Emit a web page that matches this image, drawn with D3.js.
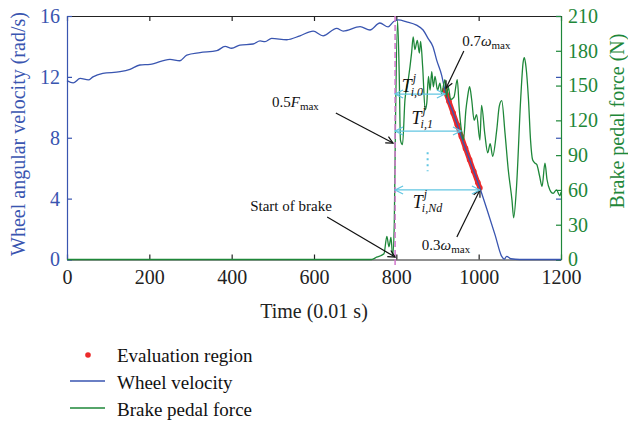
<!DOCTYPE html>
<html>
<head>
<meta charset="utf-8">
<script src="https://cdn.jsdelivr.net/npm/d3@7"></script>
<style>
body { margin: 0; background: #fff; }
text { font-family: "Liberation Serif", "Times New Roman", serif; }
</style>
</head>
<body>
<svg width="628" height="424"></svg>
<script>
// tick values
let timeTicks = [0, 200, 400, 600, 800, 1000, 1200];
let velTicks = [0, 4, 8, 12, 16];
let forceTicks = [0, 30, 60, 90, 120, 150, 180, 210];

// wheel angular velocity (rad/s)
let velTime = [0, 15, 32, 52, 63, 87, 129, 153, 177, 202, 250, 274, 291, 323, 364, 384, 400, 420, 452, 469, 481, 497, 534, 566, 598, 622, 655, 671, 712, 736, 760, 780, 793, 804, 825, 849, 865, 877, 889, 898, 910, 918, 940, 960, 980, 1003, 1020, 1040, 1056, 1062, 1068, 1078, 1100, 1150, 1200];
let velValue = [11.75, 11.6, 11.9, 11.8, 12.0, 12.23, 12.34, 12.5, 12.78, 12.82, 13.15, 13.06, 13.43, 13.59, 13.72, 14.0, 13.88, 14.09, 14.16, 14.36, 14.31, 14.53, 14.44, 14.7, 15.01, 14.7, 15.19, 15.01, 15.3, 15.08, 15.54, 15.28, 15.62, 15.74, 15.62, 15.4, 15.08, 14.53, 13.98, 13.1, 12.12, 11.14, 9.5, 7.9, 6.4, 4.7, 3.3, 1.6, 0.2, 0.02, 0.2, 0.05, 0.0, 0.0, 0.0];

// brake pedal force (N)
let forceTime = [0, 740, 752, 770, 777, 782, 787, 791, 795, 798, 803, 807, 810, 815, 821, 829, 837, 841, 845, 851, 856, 859, 864, 870, 874, 878, 882, 886, 890, 894, 900, 906, 910, 918, 922, 926, 932, 940, 948, 953, 959, 963, 969, 973, 978, 983, 989, 995, 1003, 1007, 1015, 1022, 1028, 1034, 1044, 1050, 1056, 1064, 1072, 1081, 1085, 1092, 1102, 1108, 1111, 1115, 1121, 1126, 1131, 1137, 1141, 1148, 1154, 1161, 1166, 1173, 1181, 1189, 1197, 1200];
let forceValue = [0, 0, 2, 5, 20, 11, 19, 3, 30, 120, 206, 160, 103, 99, 138, 155, 178, 192, 181, 189, 178, 188, 166, 129, 135, 158, 146, 162, 149, 158, 146, 152, 143, 155, 140, 149, 138, 140, 155, 129, 109, 103, 129, 140, 149, 138, 120, 125, 103, 133, 108, 92, 100, 89, 112, 132, 137, 109, 77, 51, 36, 63, 138, 170, 174, 166, 138, 103, 86, 83, 82, 72, 63, 83, 69, 60, 57, 60, 55, 58];

// evaluation region (between 0.7 and 0.3 of max velocity)
let evalTime = [918, 928, 938, 948, 958, 968, 978, 988, 998, 1003];
let evalValue = [11.14, 10.38, 9.62, 8.85, 8.08, 7.3, 6.55, 5.8, 5.05, 4.7];

let legendLabels = ["Evaluation region", "Wheel velocity", "Brake pedal force"];

let blue = "#3955b0", green = "#1e8739", red = "#ec2a2a", cyan = "#62c6e2", pink = "#d276cc";

let svg = d3.select("svg"),
    margin = {top: 16, right: 67, bottom: 164.5, left: 67},
    width = +svg.attr("width") - margin.left - margin.right,
    height = +svg.attr("height") - margin.top - margin.bottom;

let x = d3.scaleLinear().domain([0, 1200]).range([margin.left, margin.left + width]);
let yL = d3.scaleLinear().domain([0, 16]).range([margin.top + height, margin.top]);
let yR = d3.scaleLinear().domain([0, 210]).range([margin.top + height, margin.top]);

function styleAxis(g, color) {
  g.selectAll("path, line").attr("stroke", color).attr("stroke-width", 1.2);
  g.selectAll("text").attr("fill", color).attr("font-size", 20)
    .attr("font-family", "Liberation Serif, serif");
}

// top & mirrored ticks
svg.append("g").attr("transform", "translate(0," + margin.top + ")")
  .call(d3.axisTop(x).tickValues(timeTicks).tickSize(-5).tickSizeOuter(0).tickFormat(""))
  .call(styleAxis, "#222");
svg.append("g").attr("transform", "translate(" + (margin.left + width) + ",0)")
  .call(d3.axisRight(yL).tickValues(velTicks).tickSize(-5).tickSizeOuter(0).tickFormat(""))
  .call(g => g.select(".domain").remove())
  .call(styleAxis, blue);

// bottom axis
svg.append("g").attr("transform", "translate(0," + (margin.top + height) + ")")
  .call(d3.axisBottom(x).tickValues(timeTicks).tickSize(-5).tickSizeOuter(0).tickPadding(10).tickFormat(d3.format("d")))
  .call(styleAxis, "#222");

// left axis
svg.append("g").attr("transform", "translate(" + margin.left + ",0)")
  .call(d3.axisLeft(yL).tickValues(velTicks).tickSize(-5).tickSizeOuter(0).tickPadding(7))
  .call(styleAxis, blue);

// right axis
svg.append("g").attr("transform", "translate(" + (margin.left + width) + ",0)")
  .call(d3.axisRight(yR).tickValues(forceTicks).tickSize(-5).tickSizeOuter(0).tickPadding(7))
  .call(styleAxis, green);

// axis titles
svg.append("text")
  .attr("transform", "translate(25," + (margin.top + 118) + ") rotate(-90)")
  .attr("text-anchor", "middle").attr("font-size", 20).attr("fill", blue)
  .text("Wheel angular velocity (rad/s)");
svg.append("text")
  .attr("transform", "translate(624," + (margin.top + 105) + ") rotate(-90)")
  .attr("text-anchor", "middle").attr("font-size", 20).attr("fill", green)
  .text("Brake pedal force (N)");
svg.append("text")
  .attr("x", x(600)).attr("y", 318)
  .attr("text-anchor", "middle").attr("font-size", 20).attr("fill", "#222")
  .text("Time (0.01 s)");

// evaluation region
let evalPts = evalTime.map((t, i) => [x(t), yL(evalValue[i])]);
svg.append("path").attr("d", d3.line()(evalPts))
  .attr("fill", "none").attr("stroke", red).attr("stroke-width", 5);
svg.selectAll(".ev").data(evalPts).enter().append("circle")
  .attr("cx", d => d[0]).attr("cy", d => d[1]).attr("r", 2.8).attr("fill", red);

// lines
let velLine = d3.line().curve(d3.curveMonotoneX)
  .x((d, i) => x(velTime[i])).y(d => yL(d));
svg.append("path").attr("d", velLine(velValue))
  .attr("fill", "none").attr("stroke", blue).attr("stroke-width", 1.3);

let forceLine = d3.line().curve(d3.curveMonotoneX)
  .x((d, i) => x(forceTime[i])).y(d => yR(d));
svg.append("path").attr("d", forceLine(forceValue))
  .attr("fill", "none").attr("stroke", green).attr("stroke-width", 1.3);

// start of brake dashed line
svg.append("line")
  .attr("x1", x(797)).attr("x2", x(797))
  .attr("y1", yL(16)).attr("y2", yL(-0.56))
  .attr("stroke", pink).attr("stroke-width", 1.5).attr("stroke-dasharray", "6,3");

// arrow helper: line with open head at (x2,y2)
function arrow(x1, y1, x2, y2, color, len, hw, both) {
  let g = svg.append("g").attr("stroke", color).attr("fill", "none").attr("stroke-width", 1.2);
  g.append("line").attr("x1", x1).attr("y1", y1).attr("x2", x2).attr("y2", y2);
  function head(px, py, qx, qy) {
    let a = Math.atan2(py - qy, px - qx);
    let bx = px - len * Math.cos(a), by = py - len * Math.sin(a);
    let nx = -Math.sin(a) * hw, ny = Math.cos(a) * hw;
    g.append("path").attr("d", "M" + (bx + nx) + "," + (by + ny) + "L" + px + "," + py + "L" + (bx - nx) + "," + (by - ny));
  }
  head(x2, y2, x1, y1);
  if (both) head(x1, y1, x2, y2);
}

// black annotation arrows
arrow(x(632), yL(2.79), x(797), yL(0.16), "#111", 7, 3.5);
arrow(x(653), yL(9.63), x(792), yL(7.65), "#111", 7, 3.5);
arrow(x(964), yL(13.7), x(921), yL(11.27), "#111", 7, 3.5);
arrow(x(947), yL(1.48), x(1003), yL(4.57), "#111", 7, 3.5);

// cyan interval arrows
arrow(x(797), yL(10.87), x(918), yL(10.87), cyan, 8, 4, true);
arrow(x(797), yL(8.44), x(957), yL(8.44), cyan, 8, 4, true);
arrow(x(797), yL(4.57), x(1003), yL(4.57), cyan, 8, 4, true);
svg.append("line")
  .attr("x1", x(876)).attr("x2", x(876)).attr("y1", yL(7.05)).attr("y2", yL(5.8))
  .attr("stroke", cyan).attr("stroke-width", 2).attr("stroke-dasharray", "2,4");

// annotation texts
function subText(xp, yp, main, sub) {
  let t = svg.append("text").attr("x", xp).attr("y", yp).attr("font-size", 15).attr("fill", "#111");
  main.forEach(m => t.append("tspan").attr("font-style", m[1] ? "italic" : "normal").text(m[0]));
  if (sub) t.append("tspan").attr("font-size", 11).attr("dy", 3).text(sub);
}
svg.append("text").attr("x", x(445)).attr("y", yL(3.19)).attr("font-size", 15).attr("fill", "#111")
  .text("Start of brake");
subText(x(498), yL(10.02), [["0.5", false], ["F", true]], "max");
subText(x(960), yL(14.03), [["0.7", false], ["\u03c9", true]], "max");
subText(x(862), yL(0.62), [["0.3", false], ["\u03c9", true]], "max");

function tLabel(t, v, sub) {
  let px = x(t), py = yL(v);
  svg.append("text").attr("x", px).attr("y", py).attr("font-size", 18)
    .attr("font-style", "italic").attr("fill", "#111").text("T");
  svg.append("text").attr("x", px + 11).attr("y", py - 10).attr("font-size", 12)
    .attr("font-style", "italic").attr("fill", "#111").text("j");
  svg.append("text").attr("x", px + 9).attr("y", py + 4).attr("font-size", 12)
    .attr("font-style", "italic").attr("fill", "#111").text(sub);
}
tLabel(813, 11.0, "i,0");
tLabel(837, 8.9, "i,1");
tLabel(840, 3.38, "i,Nd");

// legend
let legend = svg.append("g").attr("font-size", 19).attr("fill", "#111");
let legendBase = [362, 389, 415.5];
legend.append("circle").attr("cx", 88).attr("cy", legendBase[0] - 7).attr("r", 2.8).attr("fill", red);
legend.append("line").attr("x1", 70).attr("x2", 105).attr("y1", legendBase[1] - 8).attr("y2", legendBase[1] - 8)
  .attr("stroke", blue).attr("stroke-width", 1.5);
legend.append("line").attr("x1", 70).attr("x2", 105).attr("y1", legendBase[2] - 7.5).attr("y2", legendBase[2] - 7.5)
  .attr("stroke", green).attr("stroke-width", 1.5);
legend.selectAll("text").data(legendLabels).enter().append("text")
  .attr("x", 117).attr("y", (d, i) => legendBase[i]).text(d => d);
</script>
</body>
</html>
